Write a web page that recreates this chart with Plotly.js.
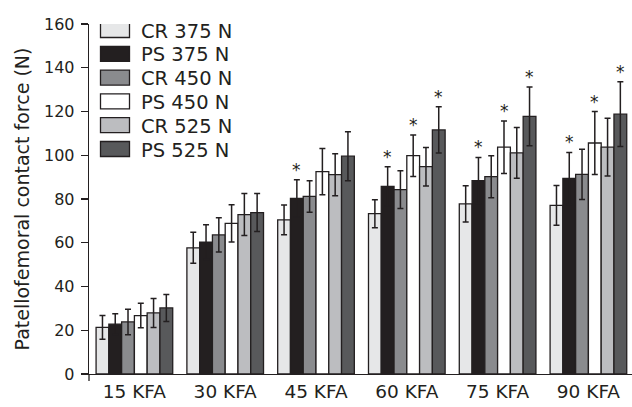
<!DOCTYPE html>
<html>
<head>
<meta charset="utf-8">
<script src="https://cdn.plot.ly/plotly-3.0.1.min.js"></script>
<style>html,body{margin:0;padding:0;background:#fff;}#chart{width:632px;height:407px;}</style>
</head>
<body>
<div id="chart"></div>
<script>
var categories = ['15 KFA', '30 KFA', '45 KFA', '60 KFA', '75 KFA', '90 KFA'];
var seriesNames = ['CR 375 N', 'PS 375 N', 'CR 450 N', 'PS 450 N', 'CR 525 N', 'PS 525 N'];

var cr375 = [21.3, 57.7, 70.5, 73.3, 77.8, 77.1];
var ps375 = [22.8, 60.3, 80.3, 85.8, 88.4, 89.4];
var cr450 = [23.8, 63.6, 81.2, 84.3, 90.2, 91.3];
var ps450 = [26.7, 68.9, 92.5, 99.8, 103.7, 105.6];
var cr525 = [27.9, 72.9, 91.1, 94.8, 101.1, 103.7];
var ps525 = [30.2, 73.8, 99.6, 111.6, 117.8, 118.8];

var cr375Err = [5.4, 7.1, 6.8, 6.4, 8.3, 9.1];
var ps375Err = [4.7, 7.9, 8.5, 9.0, 10.6, 11.9];
var cr450Err = [5.8, 7.8, 7.2, 8.6, 9.6, 11.5];
var ps450Err = [5.6, 8.5, 10.6, 9.5, 12.0, 14.4];
var cr525Err = [6.6, 9.6, 9.6, 8.8, 11.6, 13.2];
var ps525Err = [6.2, 8.7, 11.2, 10.6, 13.4, 14.8];

// significance markers (*) per series
var cr375Sig = [0, 0, 0, 0, 0, 0];
var ps375Sig = [0, 0, 1, 1, 1, 1];
var cr450Sig = [0, 0, 0, 0, 0, 0];
var ps450Sig = [0, 0, 0, 1, 1, 1];
var cr525Sig = [0, 0, 0, 0, 0, 0];
var ps525Sig = [0, 0, 0, 1, 1, 1];

var yTicks = [0, 20, 40, 60, 80, 100, 120, 140, 160];

var values = [cr375, ps375, cr450, ps450, cr525, ps525];
var errors = [cr375Err, ps375Err, cr450Err, ps450Err, cr525Err, ps525Err];
var sigs = [cr375Sig, ps375Sig, cr450Sig, ps450Sig, cr525Sig, ps525Sig];
var colors = ['#e6e7e8', '#231f20', '#8a8b8e', '#ffffff', '#bcbdc0', '#58595b'];

var ink = '#231f20';
var bargap = 0.156;

var traces = values.map(function (v, i) {
  return {
    type: 'bar',
    name: seriesNames[i],
    x: categories,
    y: v,
    marker: { color: colors[i], line: { color: ink, width: 1.3 } },
    error_y: { type: 'data', array: errors[i], visible: true, color: ink, thickness: 1.5, width: 3 },
    hoverinfo: 'skip'
  };
});

var annotations = [];
var n = values.length;
var w = (1 - bargap) / n;
sigs.forEach(function (s, i) {
  s.forEach(function (flag, j) {
    if (flag) {
      annotations.push({
        xref: 'x', yref: 'y',
        x: j + (i - (n - 1) / 2) * w,
        y: values[i][j] + errors[i][j],
        text: '*', showarrow: false,
        yanchor: 'bottom', yshift: -2,
        font: { family: 'DejaVu Sans', size: 17, color: ink }
      });
    }
  });
});

var layout = {
  width: 632, height: 407,
  margin: { l: 89, r: 0, t: 24, b: 33 },
  paper_bgcolor: '#ffffff', plot_bgcolor: '#ffffff',
  barmode: 'group', bargap: bargap, bargroupgap: 0,
  showlegend: true,
  font: { family: 'DejaVu Sans', color: ink },
  xaxis: {
    type: 'category', range: [-0.5, 5.48],
    showline: true, linecolor: ink, linewidth: 1.3,
    ticks: '', showgrid: false, zeroline: false,
    tickfont: { family: 'DejaVu Sans', size: 18.5, color: ink },
    automargin: false
  },
  yaxis: {
    range: [0, 160], tickvals: yTicks,
    showline: true, linecolor: ink, linewidth: 1.3,
    ticks: 'outside', ticklen: 7, tickwidth: 1.3, tickcolor: ink,
    ticklabelstandoff: 3,
    showgrid: false, zeroline: false,
    tickfont: { family: 'DejaVu Sans', size: 16, color: ink },
    title: { text: 'Patellofemoral contact force (N)', font: { family: 'DejaVu Sans', size: 19, color: ink }, standoff: 9 },
    automargin: false
  },
  legend: {
    x: 0, y: 1, xanchor: 'left', yanchor: 'top',
    bgcolor: 'rgba(0,0,0,0)', borderwidth: 0,
    itemwidth: 42,
    font: { family: 'DejaVu Sans', size: 19.5, color: ink },
    traceorder: 'normal'
  },
  shapes: [
    { type: 'line', xref: 'paper', yref: 'paper', x0: 0, x1: 0, y0: 0, y1: -0.02, line: { color: ink, width: 1.3 } }
  ],
  annotations: annotations
};

Plotly.newPlot('chart', traces, layout, { staticPlot: true, displayModeBar: false }).then(function () {
  var items = document.querySelectorAll('.legend .traces');
  items.forEach(function (el, i) {
    el.setAttribute('transform', 'translate(0,' + (6 + i * 23.8) + ')');
    var p = el.querySelector('.legendpoints path');
    if (p) p.setAttribute('d', 'M14.5,7.5H-14.5V-7.5H14.5Z');
  });
});
</script>
</body>
</html>
